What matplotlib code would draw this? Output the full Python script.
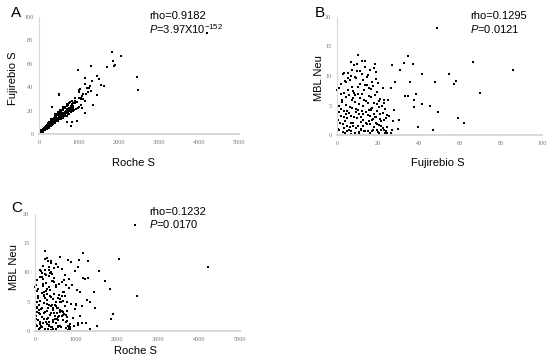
import numpy as np
import matplotlib
matplotlib.use("Agg")
import matplotlib.pyplot as plt

plt.rcParams['font.family'] = ['Liberation Sans', 'DejaVu Sans']
plt.rcParams['mathtext.fontset'] = 'custom'
plt.rcParams['mathtext.rm'] = 'Liberation Sans'
plt.rcParams['mathtext.it'] = 'Liberation Sans:italic'

# --- data: one entry per subject (Roche S, Fujirebio S, MBL Neu) ---
# outliers / sparse points
roche_out = [2440, 4210, 2050, 2480, 1820, 1860, 1900, 1880, 1710, 1300,
             970, 1160, 1460, 1330, 1500, 1550, 1630, 1250, 1275, 1450,
             1108, 1075, 1025, 992, 1180, 1225, 1300, 1050, 1340, 1083,
             1142, 958, 833, 800, 700, 792, 492, 508, 317, 1150,
             900, 1000, 880, 1100]
fuji_out = [49.0, 86.0, 66.5, 37.5, 69.8, 62.0, 58.9, 57.7, 57.0, 58.2,
            54.8, 48.0, 49.5, 45.2, 47.0, 41.5, 41.0, 39.7, 41.4, 33.0,
            34.5, 32.5, 38.6, 37.4, 34.4, 35.5, 37.0, 30.5, 24.4, 22.4,
            18.2, 10.8, 10.5, 6.8, 10.2, 22.0, 34.4, 33.2, 23.3, 42.5,
            31.0, 36.0, 26.9, 30.0]
mbl_out = [18.2, 11.0, 12.3, 5.9, 7.2, 2.0, 2.9, 0.0, 8.6, 9.1,
           10.3, 9.0, 3.9, 4.9, 0.8, 10.3, 0.0, 1.3, 5.3, 6.6,
           6.6, 12.2, 7.0, 4.7, 13.4, 8.9, 12.0, 11.0, 0.3, 0.0,
           1.3, 0.0, 0.5, 0.2, 0.0, 5.0, 0.0, 0.0, 0.1, 0.0,
           0.0, 0.0, 11.8, 2.6]

# main cloud
roche_cloud = [10, 20, 30, 15, 45, 60, 50, 90, 70, 150,
               80, 160, 110, 200, 130, 240, 150, 260, 180, 210,
               300, 200, 330, 230, 360, 250, 290, 400, 260, 244,
               440, 300, 470, 320, 360, 520, 340, 560, 380, 600,
               390, 430, 650, 400, 690, 450, 500, 720, 460, 760,
               520, 610, 800, 540, 840, 560, 700, 880, 590, 920,
               640, 760, 980, 660, 1010, 700, 1060, 730, 900, 780,
               1150, 820, 1050, 35, 110, 60, 130, 95, 170, 120,
               190, 140, 230, 170, 250, 190, 280, 215, 320, 240,
               340, 265, 370, 280, 390, 300, 420, 330, 450, 350,
               480, 370, 500, 400, 530, 410, 560, 430, 590, 450,
               610, 470, 640, 490, 670, 510, 700, 530, 730, 550,
               760, 570, 790, 600, 820, 620, 850, 650, 317, 45,
               85, 75, 105, 160, 180, 190, 230, 290, 310, 350,
               380, 430, 480, 500, 580, 600, 680, 690, 800, 790,
               850,
               40, 60, 120, 100, 250, 180, 300, 220, 380, 330,
               290, 470, 420, 560, 410, 620, 470, 690, 520, 760,
               600, 850, 690, 960, 240, 350, 300, 110, 560, 660]
fuji_cloud = [0.2, 0.8, 0.3, 0.5, 1.2, 1.0, 2.1, 1.8, 2.5, 3.0,
              3.4, 3.9, 4.2, 4.6, 4.9, 5.3, 5.7, 6.0, 6.4, 6.8,
              7.1, 7.5, 7.8, 8.2, 8.6, 8.9, 9.3, 9.6, 10.0, 10.4,
              10.7, 11.1, 11.4, 11.8, 12.1, 12.5, 12.8, 13.2, 13.5, 13.9,
              14.2, 14.6, 15.0, 15.3, 15.7, 16.0, 16.4, 16.8, 17.1, 17.5,
              17.9, 18.2, 18.6, 19.0, 19.3, 19.7, 20.1, 20.5, 20.9, 21.3,
              21.8, 22.2, 22.6, 23.0, 23.4, 23.9, 24.5, 25.0, 26.2, 27.4,
              28.0, 28.3, 29.6, 1.5, 2.7, 3.2, 3.7, 4.0, 4.4, 5.1,
              5.5, 5.9, 6.2, 6.6, 7.0, 7.3, 7.7, 8.0, 8.4, 8.8,
              9.1, 9.5, 9.9, 10.2, 10.6, 10.9, 11.3, 11.6, 12.0, 12.3,
              12.7, 13.0, 13.4, 13.7, 14.1, 14.4, 14.8, 15.2, 15.5, 15.9,
              16.2, 16.6, 17.0, 17.3, 17.7, 18.0, 18.4, 18.8, 19.2, 19.5,
              19.9, 20.3, 20.7, 21.1, 21.6, 22.0, 22.4, 22.8, 23.3, 1.9,
              2.3, 2.9, 3.6, 4.7, 5.0, 6.1, 7.4, 8.3, 9.4, 10.3,
              11.7, 12.9, 14.0, 15.4, 16.9, 18.1, 19.6, 21.0, 22.9, 24.3,
              26.5,
              1.1, 2.0, 3.3, 4.3, 5.6, 6.7, 7.9, 9.0, 10.1, 11.5,
              12.6, 13.6, 14.9, 15.8, 16.7, 17.6, 18.5, 19.4, 20.6, 21.7,
              22.7, 24.0, 25.5, 27.0, 6.9, 9.8, 12.2, 3.5, 16.3, 19.1]
mbl_cloud = [7.6, 7.9, 2.6, 1.0, 0.9, 5.0, 3.3, 4.4, 6.0, 10.3,
             7.2, 2.4, 5.1, 8.9, 1.5, 10.5, 3.8, 6.8, 9.3, 2.0,
             4.6, 11.1, 7.5, 3.0, 9.9, 5.6, 1.2, 12.0, 8.2, 13.6,
             3.6, 6.3, 10.8, 2.2, 7.0, 4.9, 9.4, 0.6, 11.6, 12.6,
             5.8, 8.5, 3.4, 10.1, 6.6, 1.8, 7.8, 4.2, 9.0, 2.7,
             11.4, 5.4, 12.1, 3.1, 7.3, 0.9, 8.8, 4.7, 6.1, 2.3,
             5.0, 7.9, 3.7, 6.0, 4.4, 2.9, 1.4, 5.9, 7.9, 2.4,
             4.2, 8.9, 1.0, 2.0, 0.5, 4.1, 9.2, 0.3, 6.5, 2.9,
             7.7, 0.8, 4.8, 10.0, 3.3, 8.1, 1.6, 6.2, 11.9, 0.4,
             4.4, 9.6, 2.8, 6.9, 0.2, 5.3, 8.6, 1.1, 4.0, 10.4,
             2.5, 6.0, 7.6, 0.7, 3.9, 9.8, 1.9, 5.5, 8.0, 0.3,
             3.2, 6.4, 0.6, 4.5, 8.3, 1.3, 6.7, 2.1, 9.5, 4.0,
             0.5, 5.7, 1.7, 3.5, 0.8, 4.9, 1.2, 2.6, 0.4, 8.7,
             5.6, 1.8, 3.0, 0.6, 4.0, 1.4, 5.9, 7.1, 3.9, 1.6,
             3.1, 1.5, 2.0, 4.3, 2.6, 3.6, 1.8, 2.7, 0.9, 3.4,
             0.4,
             3.9, 6.9, 1.2, 3.6, 9.7, 0.7, 2.0, 6.7, 4.2, 0.8,
             3.5, 8.4, 0.6, 2.4, 4.4, 0.9, 3.0, 5.2, 0.3, 1.5,
             5.5, 0.7, 3.2, 0.9, 12.3, 10.9, 12.5, 10.5, 11.0, 10.6]

# subjects with MBL Neu = 0
roche_zero = [10, 45, 50, 90, 80, 140, 120, 190, 160, 230,
              190, 270, 230, 320, 260, 380, 300, 420, 350, 460,
              380, 520, 400, 560, 450, 600, 480, 640, 520, 700,
              560, 750, 620, 800, 820, 760, 900, 1010, 1200, 15,
              60, 150, 170, 300, 290, 520, 470, 720]
fuji_zero = [0.3, 1.2, 1.8, 2.6, 3.1, 3.9, 4.4, 5.2, 5.8, 6.3,
             7.1, 7.6, 8.4, 8.9, 9.7, 10.4, 11.0, 11.6, 12.3, 12.9,
             13.5, 14.2, 14.8, 15.6, 16.1, 16.9, 17.4, 18.2, 19.0, 19.8,
             20.5, 21.3, 22.1, 23.0, 25.8, 26.9, 28.4, 30.5, 39.6, 0.8,
             2.2, 4.0, 6.0, 8.0, 11.3, 14.5, 17.8, 20.0]

roche_s = np.array(roche_out + roche_cloud + roche_zero, dtype=float)
fujirebio_s = np.array(fuji_out + fuji_cloud + fuji_zero, dtype=float)
mbl_neu = np.array(mbl_out + mbl_cloud + [0.0] * len(roche_zero), dtype=float)

fig = plt.figure(figsize=(5.5, 3.58), dpi=100)
W, H = 550, 358


def panel(px0, px1, py0, py1, x, y, xmax, xstep, ymax, ystep,
          xlabel, ylabel, xl_pos, yl_pos):
    ax = fig.add_axes([px0 / W, 1 - py0 / H, (px1 - px0) / W, (py0 - py1) / H])
    ax.scatter(x, y, s=3, marker='s', c='black', linewidths=0, clip_on=False)
    ax.set_xlim(0, xmax)
    ax.set_ylim(0, ymax)
    ax.set_xticks(np.arange(0, xmax + 1, xstep))
    ax.set_yticks(np.arange(0, ymax + 0.1, ystep))
    for s in ['top', 'right']:
        ax.spines[s].set_visible(False)
    ax.spines['left'].set_color('#d9d9d9')
    ax.spines['left'].set_linewidth(0.8)
    ax.spines['bottom'].set_color('#d9d9d9')
    ax.spines['bottom'].set_linewidth(1.4)
    ax.tick_params(length=0, labelsize=4.5, colors='#777777', pad=4)
    for t in ax.get_xticklabels() + ax.get_yticklabels():
        t.set_family('Liberation Serif')
    ax.set_xlabel(xlabel, fontsize=8)
    ax.set_ylabel(ylabel, fontsize=8)
    ax.xaxis.set_label_coords(*xl_pos)
    ax.yaxis.set_label_coords(*yl_pos)
    return ax


panel(39, 239, 134, 17, roche_s, fujirebio_s, 5000, 1000, 100, 20,
      'Roche S', 'Fujirebio S', (0.47, -0.205), (-0.105, 0.48))
panel(337, 542, 135, 17, fujirebio_s, mbl_neu, 100, 20, 20, 5,
      'Fujirebio S', 'MBL Neu', (0.49, -0.195), (-0.061, 0.48))
panel(35, 240, 331, 214, roche_s, mbl_neu, 5000, 1000, 20, 5,
      'Roche S', 'MBL Neu', (0.49, -0.128), (-0.076, 0.55))

# panel letters
fig.text(11 / W, 1 - 13 / H, 'A', fontsize=11, va='center')
fig.text(315 / W, 1 - 13 / H, 'B', fontsize=11, va='center')
fig.text(11 / W, 1 - 208 / H, 'C', fontsize=11, va='center')

# statistics
fig.text(149 / W, 1 - 16 / H, 'rho=0.9182', fontsize=8, va='center')
fig.text(149 / W, 1 - 29 / H, r'$\mathit{P}$=3.97X10$^{-152}$', fontsize=8, va='center')
fig.text(470 / W, 1 - 16 / H, 'rho=0.1295', fontsize=8, va='center')
fig.text(470 / W, 1 - 29 / H, r'$\mathit{P}$=0.0121', fontsize=8, va='center')
fig.text(149 / W, 1 - 212 / H, 'rho=0.1232', fontsize=8, va='center')
fig.text(149 / W, 1 - 224 / H, r'$\mathit{P}$=0.0170', fontsize=8, va='center')

fig.savefig('out.png', dpi=100)
